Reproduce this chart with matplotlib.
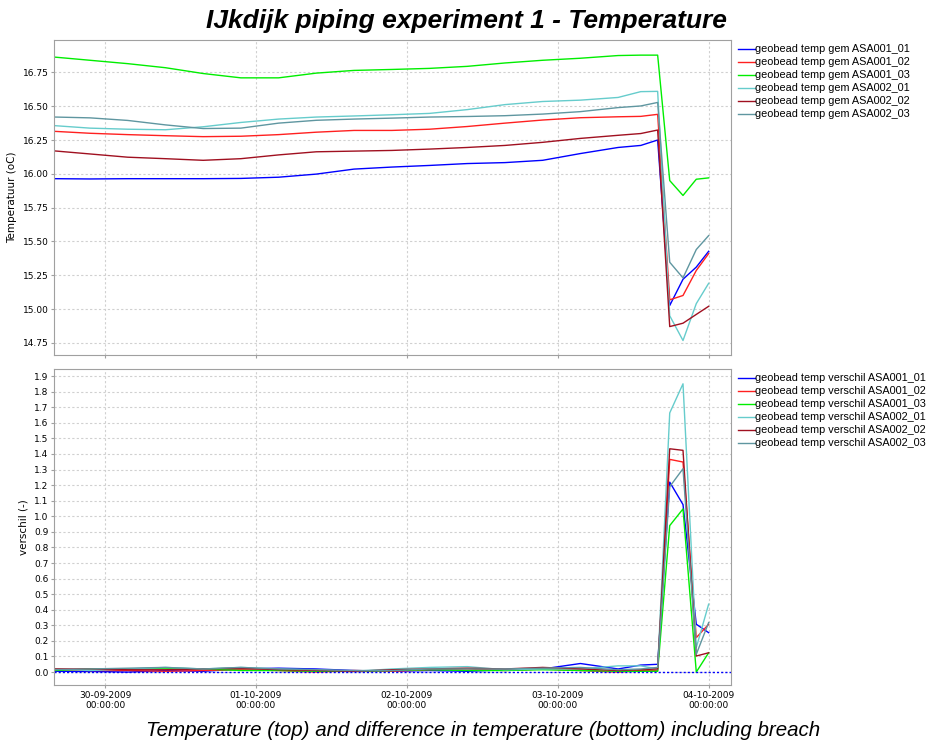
import matplotlib
matplotlib.use("Agg")
import matplotlib.pyplot as plt
import matplotlib.dates as mdates
from datetime import datetime, timedelta

# time in days since 30-09-2009 00:00
days = [-0.33, -0.1, 0.15, 0.4, 0.65, 0.9, 1.15, 1.4, 1.65, 1.9, 2.15, 2.4,
        2.65, 2.9, 3.15, 3.4, 3.55, 3.662, 3.742, 3.83, 3.918, 4.0]

names = ["ASA001_01", "ASA001_02", "ASA001_03", "ASA002_01", "ASA002_02", "ASA002_03"]
colors = ["#0000ff", "#ff2020", "#00ee00", "#66cccc", "#a01020", "#5f96a0"]

# temperature (oC)
gem_001_01 = [15.964, 15.962, 15.964, 15.964, 15.964, 15.966, 15.975, 15.998, 16.035, 16.05, 16.062, 16.076,
              16.083, 16.1, 16.15, 16.195, 16.21, 16.25, 15.026, 15.22, 15.31, 15.427]
gem_001_02 = [16.314, 16.3, 16.29, 16.282, 16.275, 16.278, 16.29, 16.308, 16.321, 16.321, 16.33, 16.35,
              16.375, 16.398, 16.415, 16.422, 16.425, 16.44, 15.068, 15.10, 15.285, 15.41]
gem_001_03 = [16.863, 16.84, 16.815, 16.785, 16.742, 16.71, 16.71, 16.745, 16.765, 16.772, 16.78, 16.795,
              16.82, 16.84, 16.855, 16.875, 16.878, 16.878, 15.95, 15.84, 15.96, 15.97]
gem_002_01 = [16.356, 16.338, 16.33, 16.326, 16.348, 16.38, 16.405, 16.42, 16.428, 16.437, 16.447, 16.475,
              16.512, 16.535, 16.545, 16.565, 16.608, 16.61, 14.95, 14.767, 15.04, 15.19]
gem_002_02 = [16.169, 16.147, 16.123, 16.112, 16.1, 16.112, 16.14, 16.163, 16.168, 16.173, 16.183, 16.195,
              16.21, 16.233, 16.262, 16.285, 16.298, 16.324, 14.87, 14.895, 14.96, 15.02]
gem_002_03 = [16.42, 16.414, 16.395, 16.362, 16.335, 16.338, 16.375, 16.396, 16.405, 16.412, 16.42, 16.424,
              16.43, 16.442, 16.46, 16.49, 16.502, 16.528, 15.346, 15.23, 15.44, 15.543]

# difference (-)
vs_001_01 = [0.005, 0.005, 0.0, 0.01, 0.005, 0.02, 0.025, 0.02, 0.01, 0.005, 0.01, 0.005,
             0.015, 0.02, 0.055, 0.02, 0.045, 0.05, 1.219, 1.075, 0.307, 0.253]
vs_001_02 = [0.015, 0.01, 0.01, 0.005, 0.01, 0.015, 0.01, 0.0, 0.01, 0.005, 0.015, 0.02,
             0.01, 0.02, 0.01, 0.0, 0.01, 0.01, 1.365, 1.348, 0.221, 0.307]
vs_001_03 = [0.01, 0.02, 0.02, 0.025, 0.02, 0.01, 0.01, 0.005, 0.005, 0.01, 0.015, 0.01,
             0.01, 0.015, 0.01, 0.005, 0.005, 0.005, 0.94, 1.047, 0.0, 0.124]
vs_002_01 = [0.02, 0.01, 0.02, 0.03, 0.02, 0.03, 0.02, 0.015, 0.005, 0.02, 0.03, 0.035,
             0.015, 0.02, 0.02, 0.04, 0.04, 0.02, 1.663, 1.85, 0.157, 0.436]
vs_002_02 = [0.02, 0.02, 0.015, 0.015, 0.02, 0.025, 0.015, 0.01, 0.005, 0.015, 0.02, 0.025,
             0.02, 0.03, 0.02, 0.01, 0.015, 0.02, 1.433, 1.423, 0.103, 0.124]
vs_002_03 = [0.015, 0.02, 0.025, 0.03, 0.02, 0.03, 0.02, 0.015, 0.01, 0.01, 0.02, 0.02,
             0.02, 0.025, 0.03, 0.015, 0.02, 0.03, 1.19, 1.305, 0.114, 0.318]

gem = [gem_001_01, gem_001_02, gem_001_03, gem_002_01, gem_002_02, gem_002_03]
verschil = [vs_001_01, vs_001_02, vs_001_03, vs_002_01, vs_002_02, vs_002_03]

start = datetime(2009, 9, 30)
times = [start + timedelta(days=d) for d in days]
tick_times = [start + timedelta(days=d) for d in range(5)]

fig = plt.figure(figsize=(9.32, 7.42), dpi=100)
ax1 = fig.add_axes([0.058, 0.5216, 0.726, 0.4245])
ax2 = fig.add_axes([0.058, 0.0768, 0.726, 0.4259], sharex=ax1)

for ax in (ax1, ax2):
    ax.grid(True, color="#d0d0d0", linestyle=(0, (2, 2)), linewidth=0.8)
    for s in ax.spines.values():
        s.set_color("#a0a0a0")
    ax.tick_params(labelsize=6.5, length=2, color="#a0a0a0", pad=2)

for y, c, n in zip(gem, colors, names):
    ax1.plot(times, y, color=c, linewidth=1.0, label="geobead temp gem " + n)
for y, c, n in zip(verschil, colors, names):
    ax2.plot(times, y, color=c, linewidth=1.0, label="geobead temp verschil " + n)
ax2.axhline(0.0, color="#0000ff", linestyle=(0, (1.5, 1.5)), linewidth=1.0)

ax1.set_xlim(start - timedelta(days=0.338), start + timedelta(days=4.146))
ax1.set_ylim(14.66, 16.99)
ax1.set_yticks([14.75, 15.0, 15.25, 15.5, 15.75, 16.0, 16.25, 16.5, 16.75])
ax1.yaxis.set_major_formatter(matplotlib.ticker.FormatStrFormatter("%.2f"))
ax1.tick_params(axis="x", labelbottom=False)
ax1.set_ylabel("Temperatuur (oC)", fontsize=7.5)

ax2.set_ylim(-0.083, 1.945)
ax2.set_yticks([i / 10 for i in range(20)])
ax2.yaxis.set_major_formatter(matplotlib.ticker.FormatStrFormatter("%.1f"))
ax2.set_xticks(tick_times)
ax2.xaxis.set_major_formatter(mdates.DateFormatter("%d-%m-%Y\n%H:%M:%S"))
ax2.set_ylabel("verschil (-)", fontsize=7.5)

for ax in (ax1, ax2):
    ax.legend(loc="upper left", bbox_to_anchor=(1.005, 1.0), frameon=False,
              prop={"family": "Liberation Sans", "size": 7.8},
              handlelength=1.5, handletextpad=0.05, labelspacing=0.28, borderaxespad=0.0)

fig.text(0.5, 0.972, "IJkdijk piping experiment 1 - Temperature", ha="center", va="center",
         fontsize=19, fontweight="bold", fontstyle="italic", family="Liberation Sans")
fig.text(0.518, 0.016, "Temperature (top) and difference in temperature (bottom) including breach",
         ha="center", va="center", fontsize=14.8, fontstyle="italic", family="Liberation Sans")

fig.savefig("out.png", dpi=100)
